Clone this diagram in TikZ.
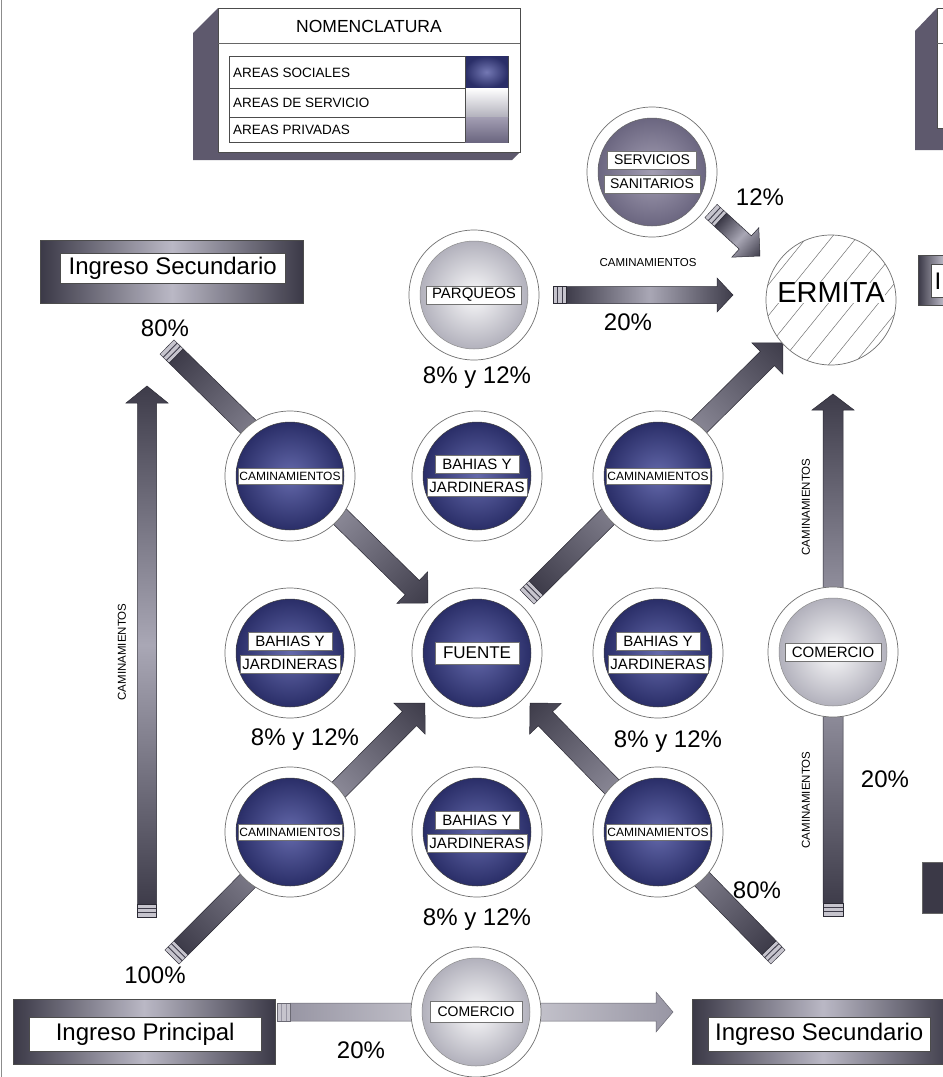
\documentclass[tikz,border=0pt]{standalone}
\usepackage{fontspec}
\setmainfont{Liberation Sans}
\usetikzlibrary{calc}
\definecolor{framedark}{HTML}{3B3947}
\definecolor{framelight}{HTML}{BAB8C5}
\definecolor{arrdark}{HTML}{3E3C4A}
\definecolor{arrmid}{HTML}{A9A7B5}
\definecolor{arrlightA}{HTML}{9896A4}
\definecolor{arrlightB}{HTML}{D4D3DA}
\definecolor{socin}{HTML}{6469AB}
\definecolor{socout}{HTML}{2A2E68}
\definecolor{srvin}{HTML}{FAFAFB}
\definecolor{srvout}{HTML}{B2B1BC}
\definecolor{privin}{HTML}{A39EB3}
\definecolor{privout}{HTML}{6B6680}
\definecolor{legdark}{HTML}{5E596D}
\definecolor{ringline}{HTML}{707070}
\definecolor{capfill}{HTML}{C6C4CD}
\newcommand\fs[1]{\fontsize{#1}{#1}\selectfont}
\newdimen\faXa \newdimen\faYa \newdimen\faXb \newdimen\faYb
% #1 from, #2 to, #3 shaft half width, #4 head half width, #5 head length, #6 end colour, #7 middle colour
\newcommand\fatarrow[7]{%
  \pgfextractx{\faXa}{\pgfpointanchor{#1}{center}}%
  \pgfextracty{\faYa}{\pgfpointanchor{#1}{center}}%
  \pgfextractx{\faXb}{\pgfpointanchor{#2}{center}}%
  \pgfextracty{\faYb}{\pgfpointanchor{#2}{center}}%
  \pgfmathsetmacro\faAng{atan2(\faYb-\faYa,\faXb-\faXa)}%
  \pgfmathsetmacro\faLen{veclen(\faXb-\faXa,\faYb-\faYa)}%
  \pgfmathsetmacro\faSh{\faLen-#5}%
  \begin{scope}[transform canvas={shift={(\the\faXa,\the\faYa)},rotate=\faAng}]
    \shade[left color=#6, right color=#6, middle color=#7]
      (13,-#3) -- (\faSh,-#3) -- (\faSh,-#4) -- (\faLen,0) -- (\faSh,#4) -- (\faSh,#3) -- (13,#3) -- cycle;
    \draw[line width=0.5pt, draw=#6!70!black, line join=miter]
      (13,-#3) -- (\faSh,-#3) -- (\faSh,-#4) -- (\faLen,0) -- (\faSh,#4) -- (\faSh,#3) -- (13,#3);
    \fill[capfill] (0,-#3) rectangle (13,#3);
    \draw[line width=0.9pt, draw=#6] (4.5,-#3) -- (4.5,#3) (9,-#3) -- (9,#3) (13,-#3) -- (13,#3);
    \draw[line width=0.4pt, draw=#6!70!black] (0,-#3) rectangle (13,#3);
  \end{scope}}
\tikzset{
  ring/.style={circle, draw=ringline, line width=0.7pt, fill=white, minimum size=130pt, inner sep=0pt},
  social/.style={circle, draw=black!75, line width=0.5pt, minimum size=108pt, inner sep=0pt, inner color=socin, outer color=socout},
  service/.style={circle, draw=black!45, line width=0.5pt, minimum size=108pt, inner sep=0pt, inner color=srvin, outer color=srvout},
  private/.style={circle, draw=black!60, line width=0.5pt, minimum size=108pt, inner sep=0pt, inner color=privin, outer color=privout},
  lbl/.style={fill=white, draw=black!55, line width=0.4pt, inner xsep=2.5pt, inner ysep=1pt, minimum height=18pt, font=\fs{15}, text=black},
  smalllbl/.style={lbl, font=\fs{12}, inner xsep=1.5pt, minimum height=16pt},
  pct/.style={font=\fs{24}, inner sep=0pt},
  framebox/.style={rectangle, inner sep=0pt, left color=framedark, right color=framedark, middle color=framelight, draw=black!70, line width=0.4pt},
  whitebox/.style={rectangle, inner sep=0pt, fill=white, draw=black!70, line width=0.4pt, font=\fs{24}},
  rot/.style={rotate=90, font=\fs{11.5}, inner sep=0pt},
}
\newcommand\bahias[3]{%
  \node[ring] (#1r) at (#2,#3) {};
  \node[social] (#1) at (#1r) {};
  \node[lbl, minimum width=84pt] (#1a) at ([yshift=11.5pt]#1.center) {BAHIAS Y};
  \node[lbl] (#1b) at ([yshift=-11.5pt]#1.center) {JARDINERAS};}
\newcommand\camin[3]{%
  \node[ring] (#1r) at (#2,#3) {};
  \node[social] (#1) at (#1r) {};
  \node[smalllbl] (#1t) at (#1) {CAMINAMIENTOS};}
\begin{document}
\begin{tikzpicture}[x=1pt,y=-1pt]
\useasboundingbox (0,0) rectangle (943,1077);
\clip (0,0) rectangle (943,1077);
\fill[white] (0,0) rectangle (943,1077);
\draw[black!45, line width=0.8pt] (1.5,0) -- (1.5,1077);

% ---------- legend ----------
\fill[legdark] (193,33) -- (218,8) -- (520,8) -- (520,152) -- (512,160) -- (193,160) -- cycle;
\node[rectangle, draw=black!70, line width=0.5pt, fill=white, minimum width=302pt, minimum height=144pt, anchor=north west, inner sep=0pt] (legend) at (218,8) {};
\draw[black!60, line width=0.5pt] (218,43) -- (520,43);
\node[font=\fs{17.5}] (legtitle) at (369,26) {NOMENCLATURA};
\draw[black!70, line width=0.5pt] (229,56) rectangle (508,142) (229,88) -- (508,88) (229,117) -- (508,117);
\shade[inner color=socin!90!white, outer color=socout] (465,56) rectangle (508,88);
\shade[top color=white, bottom color=srvout] (465,88) rectangle (508,117);
\shade[top color=privin, bottom color=privout] (465,117) rectangle (508,142);
\draw[black!70, line width=0.5pt] (465,56) -- (465,142);
\node[anchor=west, font=\fs{13.5}, inner sep=0pt] (leg1) at (233,73) {AREAS SOCIALES};
\node[anchor=west, font=\fs{13.5}, inner sep=0pt] (leg2) at (233,103) {AREAS DE SERVICIO};
\node[anchor=west, font=\fs{13.5}, inner sep=0pt] (leg3) at (233,130) {AREAS PRIVADAS};

% partial legend at top right
\fill[legdark] (915,31) -- (937,8) -- (945,8) -- (945,150) -- (915,150) -- cycle;
\node[rectangle, draw=black!70, line width=0.5pt, fill=white, minimum width=20pt, minimum height=120pt, anchor=north west, inner sep=0pt] (legendR) at (937,8) {};
\draw[black!60, line width=0.5pt] (937,43) -- (960,43);

% ---------- entrance boxes ----------
\node[framebox, minimum width=263pt, minimum height=63pt, anchor=north west] (ingSecF) at (40,240) {};
\node[whitebox, minimum width=225pt, minimum height=30pt, anchor=north west] (ingSecW) at (60,253) {};
\node[font=\fs{24}, inner sep=0pt] (ingSec) at (ingSecW) {Ingreso Secundario};

\node[framebox, minimum width=262pt, minimum height=65pt, anchor=north west] (ingPriF) at (13,999) {};
\node[whitebox, minimum width=232pt, minimum height=34pt, anchor=north west] (ingPriW) at (29,1017) {};
\node[font=\fs{24}, inner sep=0pt] (ingPri) at (ingPriW) {Ingreso Principal};

\node[framebox, minimum width=262pt, minimum height=65pt, anchor=north west] (ingSec2F) at (692,999) {};
\node[whitebox, minimum width=222pt, minimum height=34pt, anchor=north west] (ingSec2W) at (708,1017) {};
\node[font=\fs{24}, inner sep=0pt] (ingSec2) at (ingSec2W) {Ingreso Secundario};

\node[framebox, minimum width=50pt, minimum height=50pt, anchor=north west] (ingR) at (918,255) {};
\node[whitebox, minimum width=30pt, minimum height=33pt, anchor=north west] (ingRW) at (931,264) {};
\node[font=\fs{24}, inner sep=0pt, anchor=west] (ingRt) at (934.5,281) {I};

\node[rectangle, inner sep=0pt, fill=framedark, draw=black!60, minimum width=40pt, minimum height=51pt, anchor=north west] (boxRB) at (922,862) {};

% ---------- arrow end points ----------
\coordinate (lvA) at (147,917);   \coordinate (lvB) at (147,386);
\coordinate (rvA) at (833,916);   \coordinate (rvB) at (833,394);
\coordinate (tpA) at (553,295);   \coordinate (tpB) at (733,295);
\coordinate (svA) at (711,211);   \coordinate (svB) at (760,256);
\coordinate (d1A) at (167,347);   \coordinate (d1B) at (428,603);
\coordinate (d2A) at (527,597);   \coordinate (d2B) at (783,343);
\coordinate (d3A) at (172,957);   \coordinate (d3B) at (425,703);
\coordinate (d4A) at (778,957);   \coordinate (d4B) at (530,703);
\coordinate (btA) at (277,1012);  \coordinate (btB) at (673,1012);

\fatarrow{lvA}{lvB}{9.5}{21}{17}{arrdark}{arrmid}
\fatarrow{rvA}{rvB}{10}{21}{16}{arrdark}{arrmid}
\fatarrow{tpA}{tpB}{8.5}{17}{16}{arrdark}{arrmid}
\fatarrow{svA}{svB}{9}{20}{20}{arrdark}{arrmid}
\fatarrow{d1A}{d1B}{10}{22}{22}{arrdark}{arrmid}
\fatarrow{d2A}{d2B}{10}{22}{22}{arrdark}{arrmid}
\fatarrow{d3A}{d3B}{10}{22}{22}{arrdark}{arrmid}
\fatarrow{d4A}{d4B}{10}{22}{22}{arrdark}{arrmid}
\fatarrow{btA}{btB}{9}{20}{17}{arrlightA}{arrlightB}

% ---------- circles ----------
\camin{c11}{290}{476}
\bahias{c12}{477}{476}
\camin{c13}{658}{476}
\bahias{c21}{290}{653}
\node[ring] (fuenteR) at (477,653) {};
\node[social] (fuente) at (fuenteR) {};
\node[lbl, font=\fs{17}, minimum width=84pt, minimum height=22pt] (fuenteT) at (fuente) {FUENTE};
\bahias{c23}{658}{653}
\camin{c31}{290}{832}
\bahias{c32}{477}{832}
\camin{c33}{658}{832}

\node[ring] (parqR) at (474,295) {};
\node[service] (parq) at (parqR) {};
\node[lbl, minimum width=95pt] (parqT) at (parq) {PARQUEOS};

\node[ring] (servR) at (652,172) {};
\node[private] (serv) at (servR) {};
\node[lbl, font=\fs{14}, minimum width=89pt] (servT1) at ([yshift=12pt]serv.center) {SERVICIOS};
\node[lbl, font=\fs{14}, minimum width=96pt] (servT2) at ([yshift=-12pt]serv.center) {SANITARIOS};

\node[ring] (comRR) at (833,652) {};
\node[service] (comR) at (comRR) {};
\node[lbl, minimum width=96pt] (comRT) at (comR) {COMERCIO};

\node[ring] (comBR) at (476,1012) {};
\node[service] (comB) at (comBR) {};
\node[lbl, font=\fs{14}, minimum width=92pt, minimum height=21pt] (comBT) at (comB) {COMERCIO};

% ERMITA
\node[circle, fill=white, minimum size=130pt, inner sep=0pt] (ermR) at (831,300) {};
\begin{scope}
  \clip (831,300) circle[radius=65pt];
  \foreach \k in {-7,...,7}
    \draw[black!55, line width=0.5pt] ($(ermR)+(\k*25-85,105)$) -- ($(ermR)+(\k*25+85,-105)$);
\end{scope}
\draw[ringline, line width=0.7pt] (ermR) circle[radius=65pt];
\node[font=\fs{29}, fill=white, inner sep=0.5pt] (ermT) at (831,293) {ERMITA};

% ---------- texts ----------
\node[pct] (p80a) at (165,328) {80\%};
\node[pct] (p100) at (155,975) {100\%};
\node[pct] (p20b) at (361,1050) {20\%};
\node[pct] (p20t) at (628,322) {20\%};
\node[pct] (p12) at (760,197) {12\%};
\node[pct] (p20r) at (885,779) {20\%};
\node[pct] (p80b) at (757,890) {80\%};
\node[pct] (m1) at (477,378) {8\% y 12\%};
\node[pct] (m2) at (305,740) {8\% y 12\%};
\node[pct] (m3) at (668,742) {8\% y 12\%};
\node[pct] (m4) at (477,920) {8\% y 12\%};
\node[font=\fs{11.5}, inner sep=0pt] (camTop) at (648,263) {CAMINAMIENTOS};
\node[rot] (camL) at (122,652) {CAMINAMIENTOS};
\node[rot] (camR1) at (806,507) {CAMINAMIENTOS};
\node[rot] (camR2) at (806,800) {CAMINAMIENTOS};
\end{tikzpicture}
\end{document}
